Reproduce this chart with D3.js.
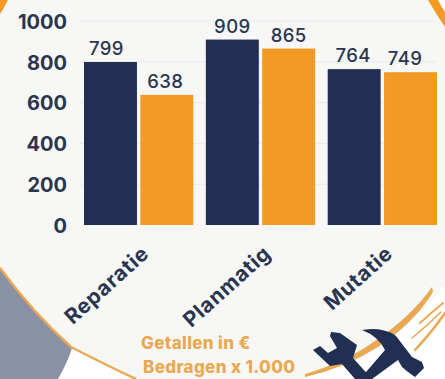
<!DOCTYPE html>
<html>
<head>
<meta charset="utf-8">
<script src="https://cdn.jsdelivr.net/npm/d3@7"></script>
<style>
html,body{margin:0;padding:0;background:#fff;overflow:hidden}
svg{display:block}
text{font-family:Inter,"Open Sans",sans-serif}
</style>
</head>
<body>
<svg id="chart" width="445" height="379"></svg>
<script>
const categories = ["Reparatie", "Planmatig", "Mutatie"];
const seriesKeys = ["begroot", "werkelijk"];
const navyValues = [799, 909, 764];
const orangeValues = [638, 865, 749];
const yTicks = [0, 200, 400, 600, 800, 1000];
const noteLines = ["Getallen in €", "Bedragen x 1.000"];

const NAVY = "#212f52", ORANGE = "#f39a25", INK = "#2a3550", PALE = "#f7f8f6", RING = "#e9a953";
const svg = d3.select("#chart");

// Backdrop: grey disc, pale medallion and its brushed rim
const backdrop = svg.append("g");
backdrop.append("rect").attr("width", 445).attr("height", 379).attr("fill", "#fff");
backdrop.append("path").attr("fill", "#8b91a4")
  .attr("d", "M0,262 L0,379 L58,379 Q68,362 73,345 Z");
backdrop.append("path").attr("fill", PALE)
  .attr("d", "M8,0 L428,0 Q436,14 445,27 L445,285 Q400,345 305,379 L136,379 Q110,367 71,347 Q33,313 0,268 L0,14 Z");
backdrop.append("path").attr("fill", "none").attr("stroke", RING).attr("stroke-width", 2.5)
  .attr("d", "M0,268 Q33,313 71,347 Q110,367 136,379");
backdrop.append("path").attr("fill", ORANGE)
  .attr("d", "M0,0 L8,0 Q4,8 0,14 Z");
backdrop.append("path").attr("fill", ORANGE)
  .attr("d", "M428,0 L438,0 Q441,6 445,12 L445,27 Q436,14 428,0 Z");
backdrop.append("path").attr("fill", RING)
  .attr("d", "M305,374 Q345,362 372,343 Q410,318 432,287 L433,292 Q415,322 378,347 Q345,368 305,377 Z");
const strokes = backdrop.append("g").attr("fill", "none").attr("stroke", RING).attr("stroke-linecap", "round");
strokes.append("path").attr("stroke-width", 2.5).attr("d", "M415,350 Q432,332 445,313");
strokes.append("path").attr("stroke-width", 2).attr("d", "M420,323 Q432,312 443,303");
strokes.append("path").attr("stroke-width", 1.5).attr("d", "M412,338 Q428,325 441,312");

// Scales
const y = d3.scaleLinear().domain([0, 1000]).range([225, 21]);
const x0 = d3.scaleBand().domain(categories).range([84, 437]).paddingInner(0.103);
const x1 = d3.scaleBand().domain(seriesKeys).range([0, x0.bandwidth()]).paddingInner(0.06);

// Horizontal grid
svg.append("g").selectAll("line").data(yTicks.slice(1)).join("line")
  .attr("x1", 80).attr("x2", 436)
  .attr("y1", d => y(d)).attr("y2", d => y(d))
  .attr("stroke", "#e9eaea").attr("stroke-width", 1);

// Value axis labels
const yAxis = d3.axisLeft(y).tickValues(yTicks).tickSize(0).tickPadding(0).tickFormat(d3.format("d"));
const yG = svg.append("g").attr("transform", "translate(67,0)").call(yAxis);
yG.select(".domain").remove();
yG.selectAll("text").attr("font-size", 20).attr("font-weight", 700).attr("fill", INK)
  .style("font-family", "Inter, sans-serif").attr("dy", "0.36em");

// Bars and their value labels
const rows = categories.map((c, i) => ({ c, vals: [navyValues[i], orangeValues[i]] }));
const groups = svg.append("g").selectAll("g").data(rows).join("g")
  .attr("transform", d => `translate(${x0(d.c)},0)`);
const colour = d3.scaleOrdinal().domain(seriesKeys).range([NAVY, ORANGE]);
const cells = d => d.vals.map((v, i) => ({ k: seriesKeys[i], v }));
groups.selectAll("rect").data(cells).join("rect")
  .attr("x", d => x1(d.k)).attr("width", x1.bandwidth())
  .attr("y", d => y(d.v)).attr("height", d => y(0) - y(d.v))
  .attr("fill", d => colour(d.k));
// Labels that would crowd a neighbour are eased toward the group's centre
const easeLeft = v => (v === 799 ? 4 : v === 749 ? 5.5 : v === 638 ? 1.5 : v === 764 ? 1 : 0);
groups.selectAll("text").data(cells).join("text")
  .attr("x", d => x1(d.k) + x1.bandwidth() / 2 - easeLeft(d.v)).attr("y", d => y(d.v) - 7)
  .attr("text-anchor", "middle").attr("font-size", 18.5).attr("font-weight", 500)
  .attr("letter-spacing", 0.4).attr("fill", INK).text(d => d.v);

// Slanted category labels, ending just under the bars
svg.append("g").selectAll("text").data(categories).join("text")
  .attr("transform", d => `translate(${x0(d) + 55},243) rotate(-42)`)
  .attr("text-anchor", "end").attr("dy", "0.8em")
  .attr("font-size", 21).attr("font-weight", 700).attr("letter-spacing", 0.7)
  .attr("fill", INK).text(d => d);

// Unit note
svg.append("g").selectAll("text").data(noteLines).join("text")
  .attr("x", (d, i) => 141 + i * 2).attr("y", (d, i) => 349 + i * 24)
  .attr("font-size", 17).attr("font-weight", 800)
  .attr("letter-spacing", 0.35).attr("fill", RING).text(d => d);

// Crossed wrench and hammer emblem
const emblem = svg.append("g").attr("fill", NAVY);
emblem.append("path").attr("d",
  "M331,332 L340,333 L357,345 L353,358 L372,379 L355,379 L342,364 L330,366 L313,350 L320,346 L328,353 L337,348 L330,336 Z");
emblem.append("path").attr("d",
  "M362,330 Q375,328 382,330 Q392,332 396,336 L412,357 L422,362 L424,368 L415,377 L408,372 L402,367 L398,360 L372,379 L360,379 L385,350 Q378,336 362,330 Z");
</script>
</body>
</html>
